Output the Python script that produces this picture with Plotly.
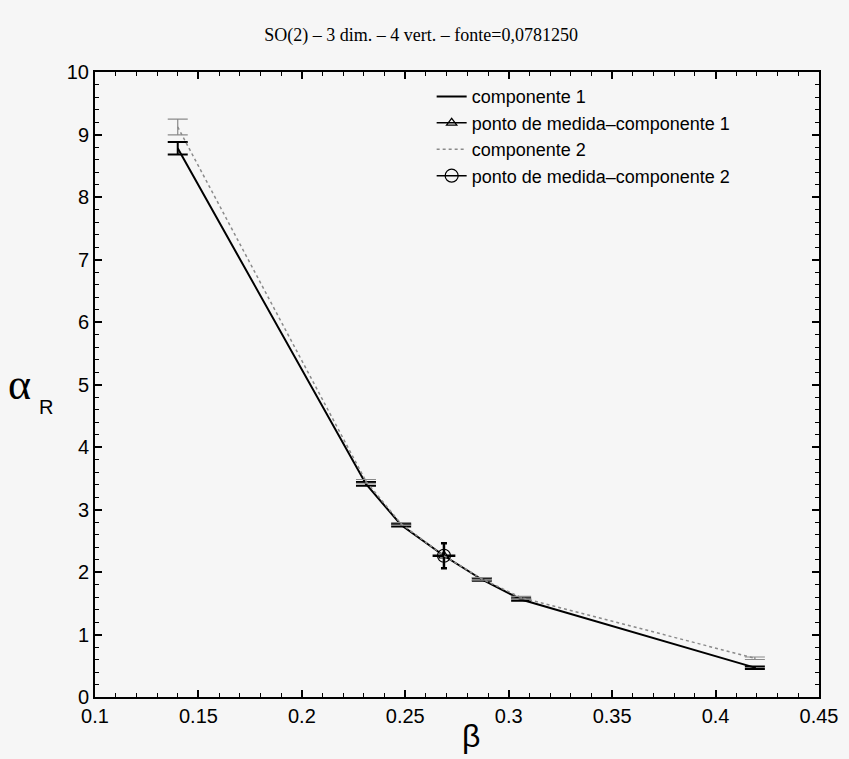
import plotly.graph_objects as go

# --- data ---
beta = [0.140, 0.231, 0.248, 0.287, 0.306, 0.419]
comp1 = [8.78, 3.41, 2.75, 1.88, 1.56, 0.47]
comp1_err = [0.10, 0.03, 0.02, 0.02, 0.02, 0.02]
comp2 = [9.12, 3.45, 2.77, 1.89, 1.59, 0.62]
comp2_err = [0.125, 0.03, 0.02, 0.02, 0.02, 0.02]

meas_beta = [0.2687]
meas1 = [2.26]
meas2 = [2.26]
meas_err_y = [0.20]
meas_err_x = [0.0055]

title_text = "SO(2) \u2013 3 dim. \u2013 4 vert. \u2013 fonte=0,0781250"
legend_names = ["componente 1", "ponto de medida\u2013componente 1",
                "componente 2", "ponto de medida\u2013componente 2"]

# combine curves with the measured point so lines pass through it
line_beta = sorted(beta + meas_beta)
c1 = dict(zip(beta + meas_beta, comp1 + meas1))
c2 = dict(zip(beta + meas_beta, comp2 + meas2))

fig = go.Figure()
fig.add_trace(go.Scatter(
    x=line_beta, y=[c1[b] for b in line_beta], mode="lines",
    name=legend_names[0], line=dict(color="black", width=2),
))
fig.add_trace(go.Scatter(
    x=beta, y=comp1, mode="markers", showlegend=False,
    marker=dict(size=1, color="black"),
    error_y=dict(type="data", array=comp1_err, color="black", thickness=2, width=10),
))
fig.add_trace(go.Scatter(
    x=meas_beta, y=meas1, mode="lines+markers", name=legend_names[1],
    line=dict(color="black", width=1.5),
    marker=dict(symbol="triangle-up-open", size=9, color="black", line=dict(width=1.2)),
    error_y=dict(type="data", array=meas_err_y, color="black", thickness=2.5, width=3),
    error_x=dict(type="data", array=meas_err_x, color="black", thickness=2.5, width=0),
))
fig.add_trace(go.Scatter(
    x=line_beta, y=[c2[b] for b in line_beta], mode="lines",
    name=legend_names[2], line=dict(color="#8a8a8a", width=1.5, dash="dot"),
))
fig.add_trace(go.Scatter(
    x=beta, y=comp2, mode="markers", showlegend=False,
    marker=dict(size=1, color="#8a8a8a"),
    error_y=dict(type="data", array=comp2_err, color="#8a8a8a", thickness=1.2, width=10),
))
fig.add_trace(go.Scatter(
    x=meas_beta, y=meas2, mode="lines+markers", name=legend_names[3],
    line=dict(color="black", width=1.5),
    marker=dict(symbol="circle-open", size=13, color="black", line=dict(width=1.2)),
))

axis_common = dict(
    showgrid=False, zeroline=False, showline=True, linecolor="black", linewidth=2,
    mirror="allticks", ticks="inside", tickcolor="black", ticklen=7, tickwidth=1.5,
    tickfont=dict(family="Liberation Sans, Arial, sans-serif", size=20, color="black"),
)

fig.update_layout(
    width=849, height=759,
    margin=dict(l=95, r=30, t=72, b=62),
    paper_bgcolor="#f6f6f6", plot_bgcolor="#f6f6f6",
    title=dict(text=title_text, x=0.496, xref="container", xanchor="center",
               y=0.962, yref="container",
               font=dict(family="Liberation Serif, Times New Roman, serif", size=18, color="black")),
    xaxis=dict(range=[0.1, 0.45], dtick=0.05, tick0=0.1,
               minor=dict(dtick=0.01, ticks="inside", ticklen=4, tickcolor="black", tickwidth=1.2),
               **axis_common),
    yaxis=dict(range=[0, 10], dtick=1, tick0=0,
               minor=dict(dtick=0.2, ticks="inside", ticklen=4, tickcolor="black", tickwidth=1.2),
               **axis_common),
    legend=dict(x=0.465, y=0.99, xanchor="left", yanchor="top",
                bgcolor="rgba(0,0,0,0)", tracegroupgap=0,
                font=dict(family="Liberation Sans, Arial, sans-serif", size=18, color="black")),
    showlegend=True,
    annotations=[
        dict(text="\u03b1", xref="paper", yref="paper", x=-0.085, y=0.5,
             showarrow=False, xanchor="right", yanchor="middle",
             font=dict(family="Liberation Serif, Times New Roman, serif", size=44, color="black")),
        dict(text="R", xref="paper", yref="paper", x=-0.055, y=0.485,
             showarrow=False, xanchor="right", yanchor="top",
             font=dict(family="Liberation Sans, Arial, sans-serif", size=20, color="black")),
        dict(text="\u03b2", xref="x", yref="paper", x=0.282, y=-0.03,
             showarrow=False, xanchor="center", yanchor="top",
             font=dict(family="Liberation Sans, Arial, sans-serif", size=32, color="black")),
    ],
)

fig.write_html("out.html")
